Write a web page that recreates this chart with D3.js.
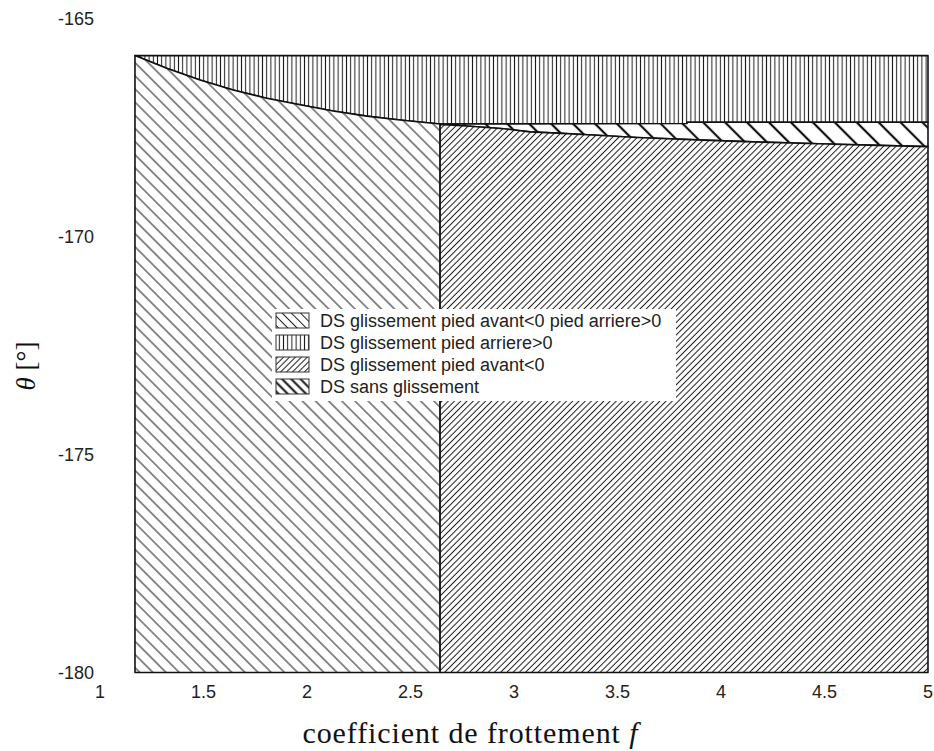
<!DOCTYPE html>
<html><head><meta charset="utf-8">
<script src="https://cdn.jsdelivr.net/npm/d3@7"></script>
<style>html,body{margin:0;padding:0;background:#fff;}svg{display:block;}</style>
</head><body>
<svg id="chart" width="934" height="751"></svg>
<script>
// ---- data ----
const xTicks = [1, 1.5, 2, 2.5, 3, 3.5, 4, 4.5, 5];
const yTicks = [-165, -170, -175, -180];
const fStart = 1.169, fSplit = 2.643, fEnd = 5;
const thetaTop = -165.84, thetaBottom = -180;
// boundary between "pied avant<0 pied arriere>0" and "pied arriere>0"
const fCurveAB = [1.169, 1.322, 1.483, 1.643, 1.805, 1.966, 2.126, 2.288, 2.449, 2.643];
const thetaCurveAB = [-165.84, -166.13, -166.40, -166.63, -166.82, -166.97, -167.11, -167.23, -167.32, -167.41];
// upper boundary of "sans glissement" (lower edge of "pied arriere>0")
const fUpperD = [2.643, 3.836, 3.836, 5.0];
const thetaUpperD = [-167.41, -167.40, -167.37, -167.37];
// lower boundary of "sans glissement" (upper edge of "pied avant<0")
const fLowerD = [2.643, 2.788, 2.95, 3.077, 3.208, 3.40, 3.594, 3.913, 4.155, 4.512, 4.754, 5.0];
const thetaLowerD = [-167.42, -167.46, -167.52, -167.59, -167.62, -167.67, -167.72, -167.78, -167.82, -167.87, -167.90, -167.93];
const legendLabels = [
  "DS glissement pied avant<0 pied arriere>0",
  "DS glissement pied arriere>0",
  "DS glissement pied avant<0",
  "DS sans glissement"
];

// ---- scales ----
const svg = d3.select("#chart");
const x = d3.scaleLinear().domain([1, 5]).range([100, 928]);
const y = d3.scaleLinear().domain([-180, -165]).range([672.5, 19]);

// ---- patterns ----
const defs = svg.append("defs");
function hatch(id, spacing, angle, width, color) {
  const p = defs.append("pattern").attr("id", id)
    .attr("patternUnits", "userSpaceOnUse")
    .attr("width", spacing).attr("height", spacing)
    .attr("patternTransform", `rotate(${angle})`);
  p.append("rect").attr("width", spacing).attr("height", spacing).attr("fill", "#fff");
  p.append("line").attr("x1", spacing / 2).attr("x2", spacing / 2)
    .attr("y1", -1).attr("y2", spacing + 1)
    .attr("stroke", color).attr("stroke-width", width);
}
hatch("patA", 9.3, -45, 1, "#1a1a1a");
hatch("patB", 4.2, 0, 1, "#1a1a1a");
hatch("patC", 4.4, 45, 1, "#1a1a1a");
hatch("patD", 15.5, -45, 2.2, "#111");
hatch("patDleg", 6.5, -45, 2, "#111");
hatch("patAleg", 6.5, -45, 1, "#1a1a1a");
hatch("patCleg", 4.2, 45, 1, "#1a1a1a");

const pts = (fs, ts) => fs.map((f, i) => [f, ts[i]]);
const line = d3.line().x(d => x(d[0])).y(d => y(d[1]));

// Region A
const regionA = [[fStart, thetaBottom]].concat(pts(fCurveAB, thetaCurveAB), [[fSplit, thetaBottom]]);
// Region B
const regionB = [[fStart, thetaTop], [fEnd, thetaTop]]
  .concat(pts(fUpperD, thetaUpperD).reverse(), pts(fCurveAB, thetaCurveAB).reverse());
// Region C
const regionC = [[fSplit, thetaBottom]].concat(pts(fLowerD, thetaLowerD), [[fEnd, thetaBottom]]);
// Region D
const regionD = pts(fUpperD, thetaUpperD).concat(pts(fLowerD, thetaLowerD).reverse());

const regions = [
  {d: regionB, fill: "url(#patB)"},
  {d: regionD, fill: "url(#patD)"},
  {d: regionA, fill: "url(#patA)"},
  {d: regionC, fill: "url(#patC)"}
];
svg.append("g").selectAll("path").data(regions).join("path")
  .attr("d", r => line(r.d) + "Z")
  .attr("fill", r => r.fill)
  .attr("stroke", "#111").attr("stroke-width", 1.6).attr("stroke-linejoin", "round");

// ---- tick labels ----
const fontSans = "'Liberation Sans', Arial, sans-serif";
svg.append("g").selectAll("text").data(yTicks).join("text")
  .attr("x", 94).attr("y", d => y(d) + 6.3)
  .attr("text-anchor", "end").attr("font-family", fontSans).attr("font-size", 18)
  .attr("fill", "#222").text(d => d);
svg.append("g").selectAll("text").data(xTicks).join("text")
  .attr("x", d => x(d)).attr("y", 697.5)
  .attr("text-anchor", "middle").attr("font-family", fontSans).attr("font-size", 18)
  .attr("fill", "#222").text(d => d);

// ---- axis titles ----
const fontSerif = "'Liberation Serif', 'DejaVu Serif', serif";
const xt = svg.append("text").attr("x", 470).attr("y", 743).attr("text-anchor", "middle")
  .attr("font-family", fontSerif).attr("font-size", 30).attr("fill", "#111")
  .attr("textLength", 335).attr("lengthAdjust", "spacing");
xt.append("tspan").text("coefficient de frottement ");
xt.append("tspan").attr("font-style", "italic").text("f");

const yt = svg.append("text").attr("transform", "translate(35,366) rotate(-90)")
  .attr("text-anchor", "middle").attr("font-family", fontSerif).attr("font-size", 27).attr("fill", "#111");
yt.append("tspan").attr("font-style", "italic").text("θ");
yt.append("tspan").text(" [°]");

// ---- legend ----
const lg = svg.append("g");
lg.append("rect").attr("x", 272).attr("y", 309).attr("width", 404).attr("height", 92).attr("fill", "#fff");
const legFills = ["url(#patAleg)", "url(#patB)", "url(#patCleg)", "url(#patDleg)"];
const rows = lg.selectAll("g").data(legendLabels).join("g")
  .attr("transform", (d, i) => `translate(0,${320.5 + i * 22})`);
rows.append("rect").attr("x", 276).attr("y", -7.5).attr("width", 33).attr("height", 15)
  .attr("fill", (d, i) => legFills[i]).attr("stroke", "#333").attr("stroke-width", 1);
rows.append("text").attr("x", 320).attr("y", 6.5).attr("font-family", fontSans).attr("font-size", 18)
  .attr("fill", "#222").text(d => d);
</script>
</body></html>
